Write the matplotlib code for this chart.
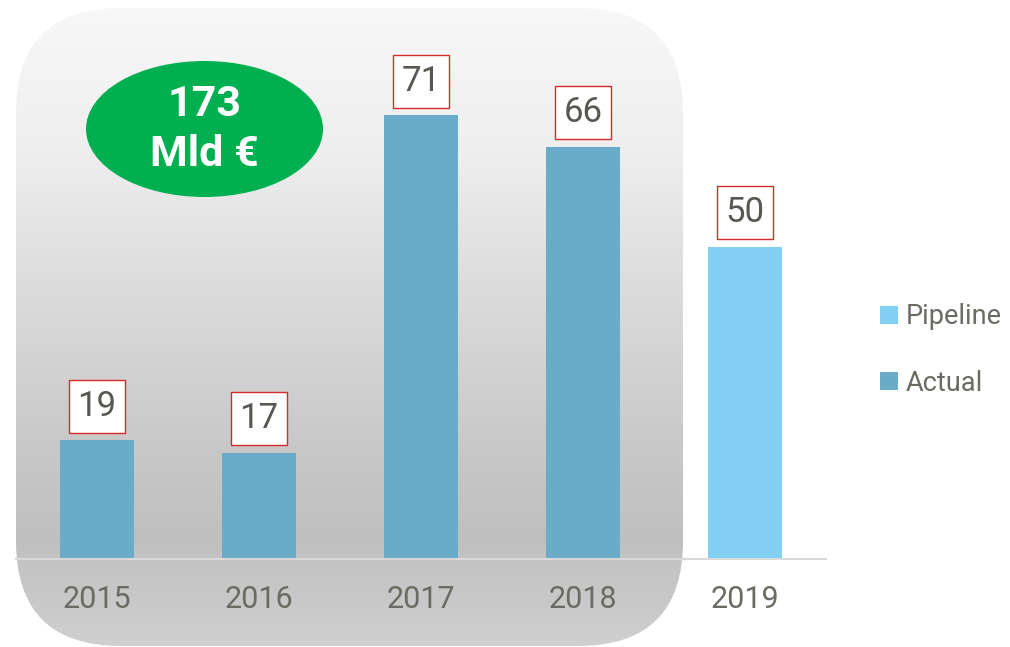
import numpy as np
import matplotlib
matplotlib.use("Agg")
import matplotlib.pyplot as plt
from matplotlib.patches import FancyBboxPatch, Ellipse, Rectangle, Patch

# ---- data ----
years = ["2015", "2016", "2017", "2018", "2019"]
values = [19, 17, 71, 66, 50]
series = ["Actual", "Actual", "Actual", "Actual", "Pipeline"]
total_line1 = "173"
total_line2 = "Mld €"

colors = {"Actual": "#6aabca", "Pipeline": "#82cff4"}
FONT = ["Roboto", "DejaVu Sans"]
plt.rcParams["font.family"] = FONT

W, H = 1010, 647
fig = plt.figure(figsize=(W / 100, H / 100), dpi=100)

# background axes in pixel coordinates
bg = fig.add_axes([0, 0, 1, 1])
bg.set_xlim(0, W)
bg.set_ylim(H, 0)
bg.axis("off")

# gradient rounded panel
ys = np.array([8, 150, 280, 450, 540, 559, 600, 646])
vs = np.array([0.97, 0.935, 0.865, 0.785, 0.748, 0.765, 0.785, 0.815])
yy = np.arange(0, H + 1)
g = np.interp(yy, ys, vs)
img = np.repeat(g[:, None], 2, axis=1)
panel = FancyBboxPatch((16, 8), 683 - 16, 646 - 8,
                       boxstyle="round,pad=0,rounding_size=105",
                       facecolor="none", edgecolor="none")
bg.add_patch(panel)
im = bg.imshow(np.dstack([img, img, img]), extent=(0, W, H, 0),
               aspect="auto", interpolation="bilinear", zorder=0)
im.set_clip_path(panel)
bg.set_xlim(0, W)
bg.set_ylim(H, 0)

# green ellipse with total
bg.add_patch(Ellipse((204.5, 129), 237, 136, facecolor="#00b050",
                     edgecolor="none", zorder=2))
bg.text(204.5, 105, total_line1, color="white", fontsize=31, fontweight="bold",
        ha="center", va="center", zorder=3)
bg.text(204.5, 154, total_line2, color="white", fontsize=31, fontweight="bold",
        ha="center", va="center", zorder=3)

# main axes
x0, x1 = 16, 826
base, top = 559, 8
ax = fig.add_axes([x0 / W, (H - base) / H, (x1 - x0) / W, (base - top) / H])
ax.patch.set_visible(False)
xs = np.arange(len(years))
ax.set_xlim(-0.5, len(years) - 0.5)
ax.set_ylim(0, (base - top) / 6.25)

ax.bar(xs, values, width=0.457, color=[colors[s] for s in series], zorder=2)

# data labels in boxes
bw, bh, gap = 0.34, 8.5, 1.2
for xi, v in zip(xs, values):
    ax.add_patch(Rectangle((xi - bw / 2, v + gap), bw, bh, facecolor="white",
                           edgecolor="#d42a2a", linewidth=1.0, zorder=3))
    ax.text(xi, v + gap + bh / 2, str(v), ha="center", va="center",
            fontsize=25, color="#585852", zorder=4)

for s in ["top", "left", "right"]:
    ax.spines[s].set_visible(False)
ax.spines["bottom"].set_color("#d9d9d9")
ax.spines["bottom"].set_linewidth(1.5)
ax.set_yticks([])
ax.set_xticks(xs, years)
ax.tick_params(axis="x", length=0, pad=19, labelsize=22, labelcolor="#6b6b63")

# legend
handles = [Patch(facecolor=colors["Pipeline"], label="Pipeline"),
           Patch(facecolor=colors["Actual"], label="Actual")]
fig.legend(handles=handles, loc="center left",
           bbox_to_anchor=(866 / W, 1 - 350 / H), frameon=False,
           fontsize=19.5, labelcolor="#6b6b63", handlelength=0.68,
           handleheight=0.68, handletextpad=0.3, labelspacing=1.45,
           borderpad=0)

fig.savefig("out.png", dpi=100)
